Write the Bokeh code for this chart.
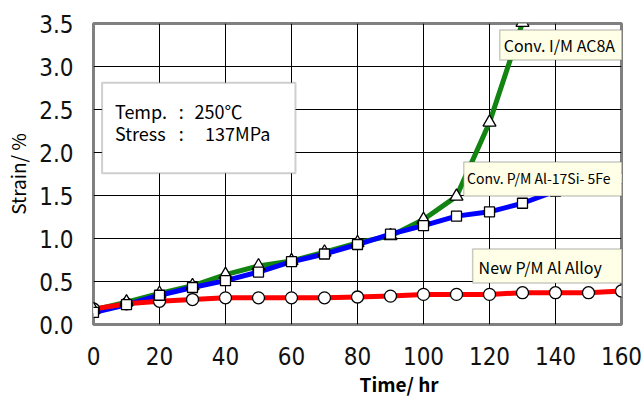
from bokeh.plotting import figure
from bokeh.models import Range1d, FixedTicker, BoxAnnotation, Label, PrintfTickFormatter, Title
from bokeh.embed import file_html
from bokeh.resources import INLINE

# ---- data -------------------------------------------------------------
hours = [0, 10, 20, 30, 40, 50, 60, 70, 80, 90, 100, 110, 120, 130, 140, 150, 160]
hours_ac8a = [0, 10, 20, 30, 40, 50, 60, 70, 80, 90, 100, 110, 120, 130]
strain_ac8a = [0.17, 0.26, 0.36, 0.45, 0.58, 0.68, 0.74, 0.84, 0.95, 1.03, 1.22, 1.49, 2.35, 3.51]
strain_pm_17si5fe = [0.14, 0.23, 0.34, 0.43, 0.51, 0.61, 0.73, 0.82, 0.93, 1.05, 1.15, 1.26, 1.31,
                     1.41, 1.55, 1.62, 1.70]
strain_new_pm = [0.18, 0.24, 0.27, 0.29, 0.31, 0.31, 0.31, 0.31, 0.32, 0.33, 0.35, 0.35, 0.35,
                 0.37, 0.37, 0.37, 0.39]

x_ticks = [0, 20, 40, 60, 80, 100, 120, 140, 160]
y_ticks = [0.0, 0.5, 1.0, 1.5, 2.0, 2.5, 3.0, 3.5]

series_names = ["Conv. I/M  AC8A", "Conv.  P/M  Al-17Si- 5Fe", "New  P/M  Al  Alloy"]
series_font_sizes = ["16px", "14px", "16px"]
condition_keys = ["Temp.", "Stress"]
condition_values = ["250℃", "137MPa"]
x_title = "Time/ hr"
y_title = "Strain/ %"

# ---- figure ------------------------------------------------------------
TICK_FONT = "'Liberation Sans Narrow', 'DejaVu Sans Condensed', sans-serif"
TXT_FONT = "'Noto Sans CJK KR', 'Noto Sans', sans-serif"

p = figure(width=642, height=400, output_backend="svg", toolbar_location=None,
           x_range=Range1d(0, 160), y_range=Range1d(0, 3.5),
           min_border_left=93, min_border_right=21, min_border_top=23, min_border_bottom=76)
p.background_fill_color = "white"
p.border_fill_color = "white"
p.outline_line_color = "#808080"
p.outline_line_width = 3

p.xaxis.ticker = FixedTicker(ticks=x_ticks)
p.yaxis.ticker = FixedTicker(ticks=y_ticks)
p.yaxis.formatter = PrintfTickFormatter(format="%.1f")
for ax in (p.xaxis[0], p.yaxis[0]):
    ax.axis_line_color = None
    ax.major_tick_line_color = None
    ax.minor_tick_line_color = None
    ax.major_tick_out = 0
    ax.major_tick_in = 0
    ax.major_label_text_font = TICK_FONT
    ax.major_label_text_font_size = "24px"
    ax.major_label_text_color = "#111111"
p.xaxis.major_label_standoff = 22
p.yaxis.major_label_standoff = 20
p.yaxis.axis_label = y_title
p.yaxis.axis_label_text_font = TXT_FONT
p.yaxis.axis_label_text_font_size = "19px"
p.yaxis.axis_label_text_font_style = "normal"
p.yaxis.axis_label_text_color = "black"
p.yaxis.axis_label_standoff = 5

# x-axis title, placed right of centre as in the reference
p.add_layout(Title(text=x_title, align="left", offset=266, standoff=0,
                   text_font=TXT_FONT, text_font_size="19px", text_font_style="bold",
                   text_color="black"), "below")

p.grid.grid_line_color = "black"
p.grid.grid_line_width = 1
p.grid.grid_line_alpha = 1.0

# lines
p.line(hours_ac8a, strain_ac8a, line_color="#128412", line_width=5)
p.line(hours, strain_pm_17si5fe, line_color="#0000ff", line_width=5)
p.line(hours, strain_new_pm, line_color="#ff0000", line_width=5)

# markers
p.scatter(hours, strain_new_pm, marker="circle", size=12, fill_color="white",
          line_color="black", line_width=1.3)
p.scatter(hours_ac8a, strain_ac8a, marker="triangle", size=13, fill_color="white",
          line_color="black", line_width=1.3)
p.scatter(hours, strain_pm_17si5fe, marker="square", size=10, fill_color="white",
          line_color="black", line_width=1.3)

# condition box
p.add_layout(BoxAnnotation(left=2.6, right=61.2, top=2.81, bottom=1.76,
                           fill_color="white", fill_alpha=1.0,
                           line_color="#606060", line_width=2))
for key, val, yy, vx in zip(condition_keys, condition_values, [2.48, 2.23], [30.6, 33.8]):
    p.add_layout(Label(x=6.5, y=yy, text=key, text_font=TXT_FONT, text_font_size="18px",
                       text_baseline="middle", text_color="black"))
    p.add_layout(Label(x=25.8, y=yy, text=":", text_font=TXT_FONT, text_font_size="18px",
                       text_baseline="middle", text_color="black"))
    p.add_layout(Label(x=vx, y=yy, text=val, text_font=TXT_FONT, text_font_size="18px",
                       text_baseline="middle", text_color="black"))

# series label boxes
boxes = [(123.1, 160.4, 3.424, 3.076), (112.2, 167.4, 1.890, 1.494), (114.9, 166.2, 0.878, 0.483)]
text_pos = [(124.3, 3.25), (113.2, 1.698), (116.7, 0.672)]
for (l, r, t, b), (tx, ty), name, fs in zip(boxes, text_pos, series_names, series_font_sizes):
    p.add_layout(BoxAnnotation(left=l, right=r, top=t, bottom=b,
                               fill_color="#ffffe8", fill_alpha=1.0,
                               line_color="#505050", line_width=1.5))
    p.add_layout(Label(x=tx, y=ty, text=name, text_font=TXT_FONT, text_font_size=fs,
                       text_baseline="middle", text_color="black"))

open("out.html", "w").write(file_html(p, INLINE))
